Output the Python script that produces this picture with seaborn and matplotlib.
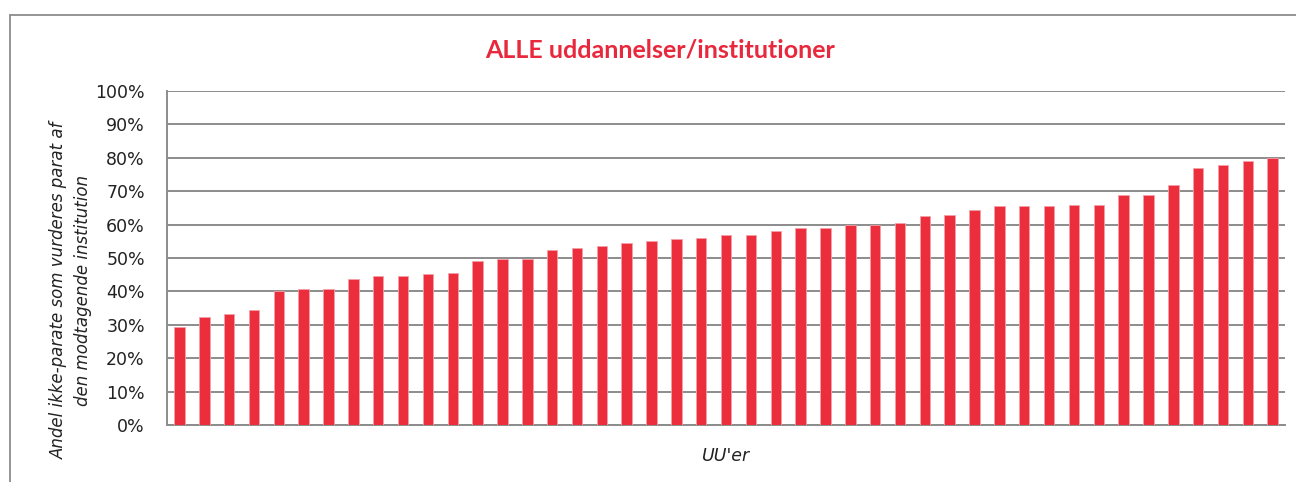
import matplotlib
matplotlib.use("Agg")
import matplotlib.pyplot as plt
from matplotlib.lines import Line2D
from matplotlib.ticker import PercentFormatter
import seaborn as sns
import pandas as pd

# values (share, in %), sorted ascending
units = [f"UU {i + 1}" for i in range(45)]
shares = [29.4, 32.3, 33.3, 34.3, 40.2, 40.7, 40.7, 43.6, 44.6, 44.6,
          45.1, 45.6, 49.1, 49.6, 49.6, 52.5, 53.1, 53.6, 54.6, 55.1,
          55.6, 56.1, 57.0, 57.0, 58.0, 59.0, 59.0, 60.0, 60.0, 60.5,
          62.5, 63.0, 64.5, 65.5, 65.5, 65.5, 66.0, 66.0, 68.9, 68.9,
          71.9, 76.9, 77.9, 79.0, 80.0]
y_ticks = list(range(0, 101, 10))

title = "ALLE uddannelser/institutioner"
y_label = "Andel ikke-parate som vurderes parat af\nden modtagende institution"
x_label = "UU'er"

bar_red = "#EC2D3C"
grid_grey = "#8C8C8C"

df = pd.DataFrame({"uu": units, "share": shares})

sns.set_style("white")
plt.rcParams["font.family"] = ["DejaVu Sans"]

fig = plt.figure(figsize=(12.96, 4.82), dpi=100)
ax = fig.add_axes([0.1289, 0.1183, 0.8627, 0.6929])

sns.barplot(data=df, x="uu", y="share", color=bar_red, width=0.42,
            saturation=1, ax=ax, zorder=3, edgecolor="#F3A0A8",
            linewidth=0.6)

ax.set_ylim(0, 100)
ax.set_xlim(-0.5, len(units) - 0.5)
ax.set_yticks(y_ticks)
ax.yaxis.set_major_formatter(PercentFormatter(decimals=0))
ax.set_xticks([])
ax.grid(axis="y", color=grid_grey, linewidth=1.4, zorder=0)
ax.tick_params(axis="y", which="major", direction="out", length=5,
               width=1.2, color=grid_grey, labelsize=12.5, pad=11,
               labelcolor="#222222")
for side in ["top", "right"]:
    ax.spines[side].set_visible(False)
for side in ["left", "bottom"]:
    ax.spines[side].set_color(grid_grey)
    ax.spines[side].set_linewidth(1.4)

ax.set_ylabel("")
ax.set_xlabel(x_label, fontsize=12.5, style="italic", color="#222222",
              labelpad=16)
fig.text(0.055, 0.398, y_label, rotation=90, ha="center", va="center",
         fontsize=12, style="italic", color="#222222", linespacing=1.45,
         multialignment="center")

fig.text(0.509, 0.896, title, ha="center", va="center", color="#E8283C",
         fontsize=18, fontweight="bold", family=["Lato", "DejaVu Sans"])

# chart frame: only top and left edges are visible in the crop
fig.add_artist(Line2D([10 / 1296, 1.0], [1 - 15 / 482, 1 - 15 / 482],
                      color=grid_grey, linewidth=1.3))
fig.add_artist(Line2D([10 / 1296, 10 / 1296], [0.0, 1 - 15 / 482],
                      color=grid_grey, linewidth=1.3))

fig.savefig("out.png", dpi=100)
